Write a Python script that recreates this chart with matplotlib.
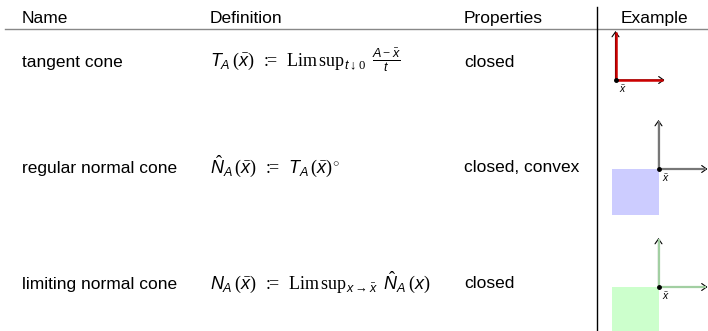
import numpy as np
import matplotlib
matplotlib.use('Agg')
import matplotlib.pyplot as plt
from matplotlib.patches import Rectangle

plt.close('all')

plt.rcParams['font.family'] = 'Liberation Sans'
plt.rcParams['mathtext.fontset'] = 'custom'
plt.rcParams['mathtext.rm'] = 'Liberation Serif'
plt.rcParams['mathtext.it'] = 'Liberation Sans:italic'
plt.rcParams['mathtext.sf'] = 'Liberation Sans'

# table content
headers     = ['Name', 'Definition', 'Properties', 'Example']
names       = ['tangent cone', 'regular normal cone', 'limiting normal cone']
definitions = [r'$T_A\,(\bar{x})\;\,{:}\!\!\!{=}\;\,\mathrm{Lim\,sup}_{t\downarrow 0}\ \,\frac{A-\bar{x}}{t}$',
               r'$\hat{N}_A\,(\bar{x})\;\,{:}\!\!\!{=}\;\,T_A\,(\bar{x})^{\circ}$',
               r'$N_A\,(\bar{x})\;\,{:}\!\!\!{=}\;\,\mathrm{Lim\,sup}_{x\to\bar{x}}\ \,\hat{N}_A\,(x)$']
properties  = ['closed', 'closed, convex', 'closed']

# example sketches: rays of the cone (directions) and the filled quadrant
ray_dirs    = [[(1, 0), (0, 1)], [(1, 0), (0, 1)], [(1, 0), (0, 1)]]
ray_colors  = ['#cc0000', '#777777', '#a2cfa2']
ray_widths  = [1.8, 1.6, 1.6]
fill_boxes  = [None, (-0.94, -0.94, 0.94, 0.94), (-0.94, -0.94, 0.94, 0.94)]
fill_colors = [None, '#ccccff', '#ccffcc']

# layout (pixels from top-left)
W, H = 708, 331
col_x = [22, 210, 464, 654]
head_y = 23
row_y = [67, 172.5, 288.5]
origins = [(615.5, 80), (658.5, 169), (658.5, 287)]
unit = 49

fig = plt.figure(figsize=(W/100, H/100), dpi=100)
ax = fig.add_axes([0, 0, 1, 1])
ax.set_xlim(0, W)
ax.set_ylim(H, 0)
ax.axis('off')

fs = 12.5
for i, h in enumerate(headers):
    ax.text(col_x[i], head_y, h, fontsize=fs, va='baseline',
            ha='center' if i == 3 else 'left')
ax.plot([5, W], [29.3, 29.3], color='#888888', lw=1.0)
ax.plot([596.7, 596.7], [7, H], color='black', lw=1.0)

for i in range(len(names)):
    ax.text(col_x[0], row_y[i], names[i], fontsize=fs, va='baseline')
    ax.text(col_x[1], row_y[i], definitions[i], fontsize=13, va='baseline')
    ax.text(col_x[2], row_y[i], properties[i], fontsize=fs, va='baseline')

# example sketches, one small axes per row
for i, (ox, oy) in enumerate(origins):
    r = 1.15
    sub = fig.add_axes([(ox - r*unit)/W, 1 - (oy + r*unit)/H, 2*r*unit/W, 2*r*unit/H])
    sub.set_xlim(-r, r)
    sub.set_ylim(-r, r)
    sub.axis('off')
    sub.patch.set_alpha(0)

    if fill_boxes[i] is not None:
        x0, y0, w, h = fill_boxes[i]
        sub.add_patch(Rectangle((x0, y0), w, h, facecolor=fill_colors[i],
                                edgecolor='none', clip_on=False, zorder=1))

    for d in ray_dirs[i]:
        sub.annotate('', xy=(1.0*d[0], 1.0*d[1]), xytext=(0, 0),
                     arrowprops=dict(arrowstyle='->,head_length=0.35,head_width=0.25',
                                     lw=0.8, color='black', shrinkA=0, shrinkB=0),
                     zorder=2, annotation_clip=False)
        sub.plot([0, 0.97*d[0]], [0, 0.97*d[1]], color=ray_colors[i],
                 lw=ray_widths[i], solid_capstyle='butt', zorder=3, clip_on=False)

    sub.plot(0, 0, 'o', ms=2.5, color='black', zorder=4, clip_on=False)
    sub.text(0.07, -0.06, r'$\bar{x}$', fontsize=7.5, ha='left', va='top', zorder=4)

plt.savefig('out.png', dpi=100)
